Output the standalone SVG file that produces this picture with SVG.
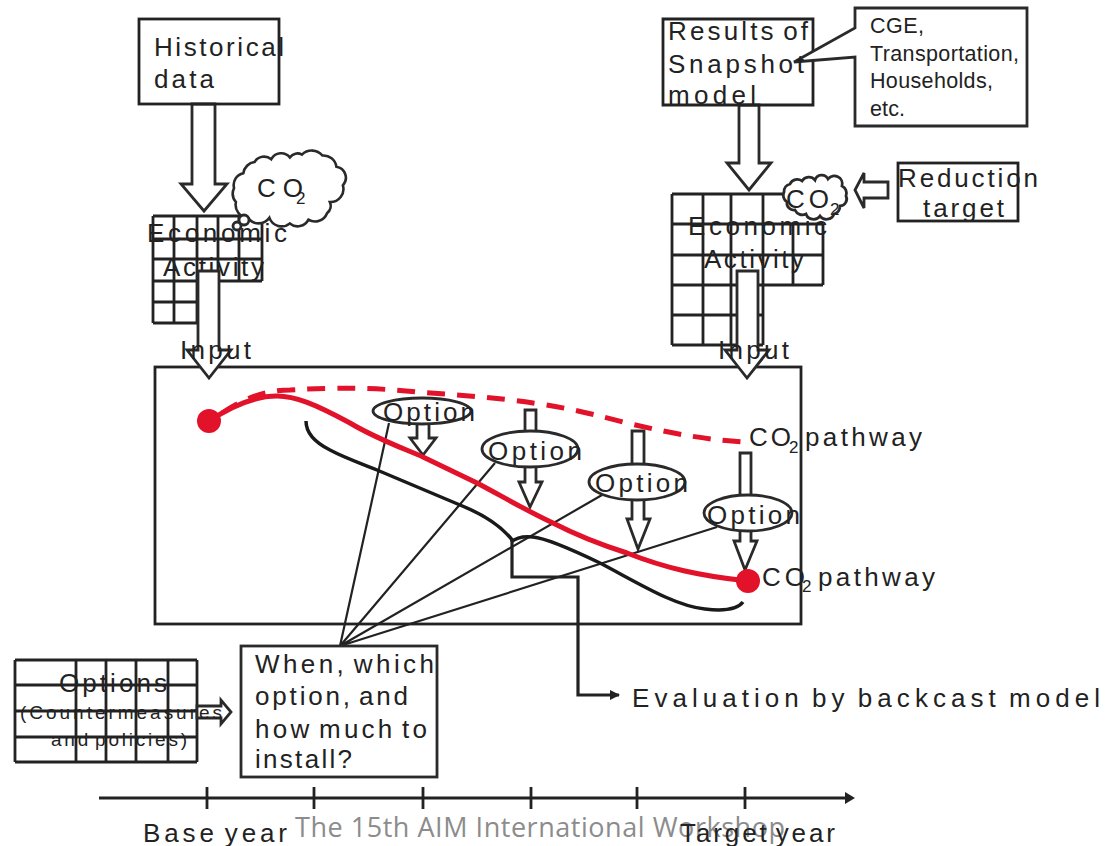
<svg xmlns="http://www.w3.org/2000/svg" width="1105" height="846" viewBox="0 0 1105 846">
<defs>
<style>
text{font-family:"Liberation Sans",Arial,sans-serif;font-size:26px;fill:#222;word-spacing:-4px}
.b{fill:#fff;stroke:#2a2a2a;stroke-width:2.8}
.n{fill:none;stroke:#222;stroke-width:2.8}
.s{font-size:17px}
.c{font-size:21.5px}
.m{font-size:19px}
</style>
<marker id="ah" markerWidth="12" markerHeight="12" refX="9" refY="5" orient="auto" markerUnits="userSpaceOnUse"><path d="M0,0L10,5L0,10Z" fill="#222"/></marker>
</defs>
<rect width="1105" height="846" fill="#fff"/>
<g id="backcast-frame"><rect class="n" x="155" y="367" width="646" height="257"/></g>
<g id="grid-base">
<path class="n" d="M153,216H262M153,239H262M153,259H262M153,281H262M153,302H197M153,323H197M153,216V323M174,216V323M197,216V323M218,216V281M239,216V281M262,216V281"/>
<text x="147" y="242" textLength="140">Economic</text>
<text x="163" y="276" textLength="101">Activity</text>
</g>
<g id="grid-target">
<path class="n" d="M672,194H800M672,224H823M672,255H823M672,285H823M672,315H763M672,345H763M672,194V345M703,194V345M731,194V345M763,194V345M793,224V285M823,224V285"/>
<text x="688" y="235" textLength="139">Economic</text>
<text x="704" y="268" textLength="100">Activity</text>
</g>
<g id="grid-options">
<path class="n" d="M15,660H197M15,685H197M15,711H197M15,737H197M15,762H197M15,660V762M76,660V762M106,660V762M136,660V762M168,660V762M197,660V762"/>
</g>
<g id="connectors">
<path class="b" d="M192,104V184H181L204,211L227,184H215V104Z"/>
<path class="b" d="M739,105V163H727L749,190L771,163H759V105Z"/>
<path class="b" d="M198,271V350H187L209,378L231,350H219V271Z"/>
<path class="b" d="M737,271V350H725L747,378L769,350H758V271Z"/>
<path class="b" d="M888,182H864V173L855,190L864,208V198H888Z"/>
<path class="b" d="M197,706H221V700L231,712L221,724V718H197Z"/>
<path class="b" d="M417,423V438H410L423,455L436,438H429V423Z"/>
<path class="b" d="M525,410V482H519L530,507L542,482H536V410Z"/>
<path class="b" d="M632,431V519H627L638,549L650,519H644V431Z"/>
<path class="b" d="M740,453V541H734L745,570L757,541H751V453Z"/>
<path d="M340,646L389,423M340,646L495,463M340,646L602,495M340,646L717,527" fill="none" stroke="#222" stroke-width="2.2"/>
<path d="M209,421C235,404 258,396 277,396C295,396 315,404 350,423C375,438 400,447 423,457L477,483C500,495 525,510 553,523C580,537 605,546 627,553C665,568 700,576 748,581" fill="none" stroke="#e1122a" stroke-width="5"/>
<path d="M222,413C245,398 265,390 290,390C340,387 380,388 417,392C460,395 500,398 533,403C570,408 600,416 627,423C670,433 705,440 747,442" fill="none" stroke="#e1122a" stroke-width="5" stroke-dasharray="18 12"/>
<path d="M306,421C306,434 316,443 330,450C345,458 360,463 377,470L460,505C480,513 500,524 513,541" fill="none" stroke="#1a1a1a" stroke-width="3.5"/>
<path d="M511,542C517,537 525,536 533,537C545,538 575,551 600,563C640,584 675,606 705,609C722,611 737,610 743,602" fill="none" stroke="#1a1a1a" stroke-width="3.5"/>
<path d="M512,540V577H578V695H619" fill="none" stroke="#222" stroke-width="3.2" marker-end="url(#ah)"/>
<circle cx="209" cy="421" r="12" fill="#e1122a"/>
<circle cx="748" cy="581" r="12" fill="#e1122a"/>
<path d="M99,798H845" fill="none" stroke="#222" stroke-width="2.8"/>
<path d="M845,792L855,798L845,804Z" fill="#222"/>
<path class="n" d="M207,787V809M314,787V809M423,787V809M531,787V809M637,787V809M745,787V809"/>
</g>
<g id="historical"><rect class="n" x="139" y="19" width="140" height="85"/>
<text x="154" y="56" textLength="130">Historical</text>
<text x="154" y="88" textLength="60">data</text></g>
<g id="snapshot"><path class="n" d="M813,52V19H663V105H813V60"/>
<text x="668" y="40" textLength="140">Results of</text></g>
<g id="callout"><path class="b" d="M855,8H1027V126H855V57L794,62L855,28Z"/>
<text class="c" x="870" y="33" textLength="54">CGE,</text>
<text class="c" x="870" y="61" textLength="149">Transportation,</text>
<text class="c" x="870" y="88" textLength="123">Households,</text>
<text class="c" x="870" y="116" textLength="35">etc.</text></g>
<g id="snapshot-text">
<text x="668" y="73" textLength="136">Snapshot</text>
<text x="668" y="104" textLength="88">model</text></g>
<g id="reduction"><rect class="n" x="898" y="163" width="120" height="58"/>
<text x="898" y="187" textLength="140">Reduction</text>
<text x="923" y="217" textLength="81">target</text></g>
<g id="cloud-base">
<path class="b" transform="translate(288 189) scale(.93) translate(-288 -189)" d="M232,203A14,14 0 0 1 230,188A13,13 0 0 1 240,172A14,14 0 0 1 252,160A12,12 0 0 1 270,157A12,12 0 0 1 290,155A10,10 0 0 1 303,152A15,15 0 0 1 325,153A14,14 0 0 1 340,165A12,12 0 0 1 347,185A14,14 0 0 1 333,203A10,10 0 0 1 330,215A14,14 0 0 1 310,222A13,13 0 0 1 290,226A14,14 0 0 1 268,220A14,14 0 0 1 245,220A14,14 0 0 1 232,203Z"/>
<circle class="b" cx="244" cy="220" r="5"/><circle class="b" cx="237" cy="226" r="4"/>
<text x="257" y="197" textLength="46">CO</text><text class="s" x="296" y="204">2</text></g>
<g id="cloud-target">
<path class="b" d="M787,202A8,8 0 0 1 784,192A8,8 0 0 1 790,184A8,8 0 0 1 802,181A8,8 0 0 1 815,180A7,7 0 0 1 828,179A8,8 0 0 1 842,186A8,8 0 0 1 846,196A7,7 0 0 1 840,206A8,8 0 0 1 834,214A8,8 0 0 1 820,216A8,8 0 0 1 806,214A8,8 0 0 1 795,210A7,7 0 0 1 787,202Z"/>
<text x="786" y="208" textLength="43">CO</text><text class="s" x="830" y="215">2</text></g>
<g id="option-1"><ellipse class="b" cx="422" cy="411" rx="49" ry="13"/><text x="383" y="421" textLength="92">Option</text></g>
<g id="option-2"><ellipse class="b" cx="530" cy="449" rx="48" ry="18"/><text x="488" y="460" textLength="94">Option</text></g>
<g id="option-3"><ellipse class="b" cx="637" cy="482" rx="48" ry="18"/><text x="595" y="492" textLength="93">Option</text></g>
<g id="option-4"><ellipse class="b" cx="748" cy="513" rx="44" ry="18"/><text x="707" y="524" textLength="93">Option</text></g>
<g id="when"><rect class="b" x="241" y="646" width="196" height="131"/>
<text x="255" y="673" textLength="179">When, which</text>
<text x="255" y="705" textLength="153">option, and</text>
<text x="255" y="738" textLength="172">how much to</text>
<text x="255" y="768" textLength="97">install?</text></g>
<g id="labels">
<text x="59" y="692" textLength="108">Options</text>
<text class="m" x="20" y="719" textLength="202">(Countermeasures</text>
<text class="m" x="51" y="746" textLength="136">and policies)</text>
<text x="180" y="359" textLength="71">Input</text>
<text x="718" y="359" textLength="71">Input</text>
<text x="749" y="446" textLength="42">CO</text><text class="s" x="789" y="453">2</text><text x="805" y="446" textLength="117">pathway</text>
<text x="762" y="586" textLength="43">CO</text><text class="s" x="802" y="592">2</text><text x="818" y="586" textLength="117">pathway</text>
<text x="632" y="707" textLength="468">Evaluation by backcast model</text>
<text x="143" y="842" textLength="144">Base year</text>
<text x="295" y="837" textLength="490" style="font-family:'Open Sans','Noto Sans',sans-serif;font-size:27px;fill:#8c8c8c;word-spacing:0">The 15th AIM International Workshop</text>
<text x="680" y="842" textLength="155">Target year</text>
</g>
</svg>
